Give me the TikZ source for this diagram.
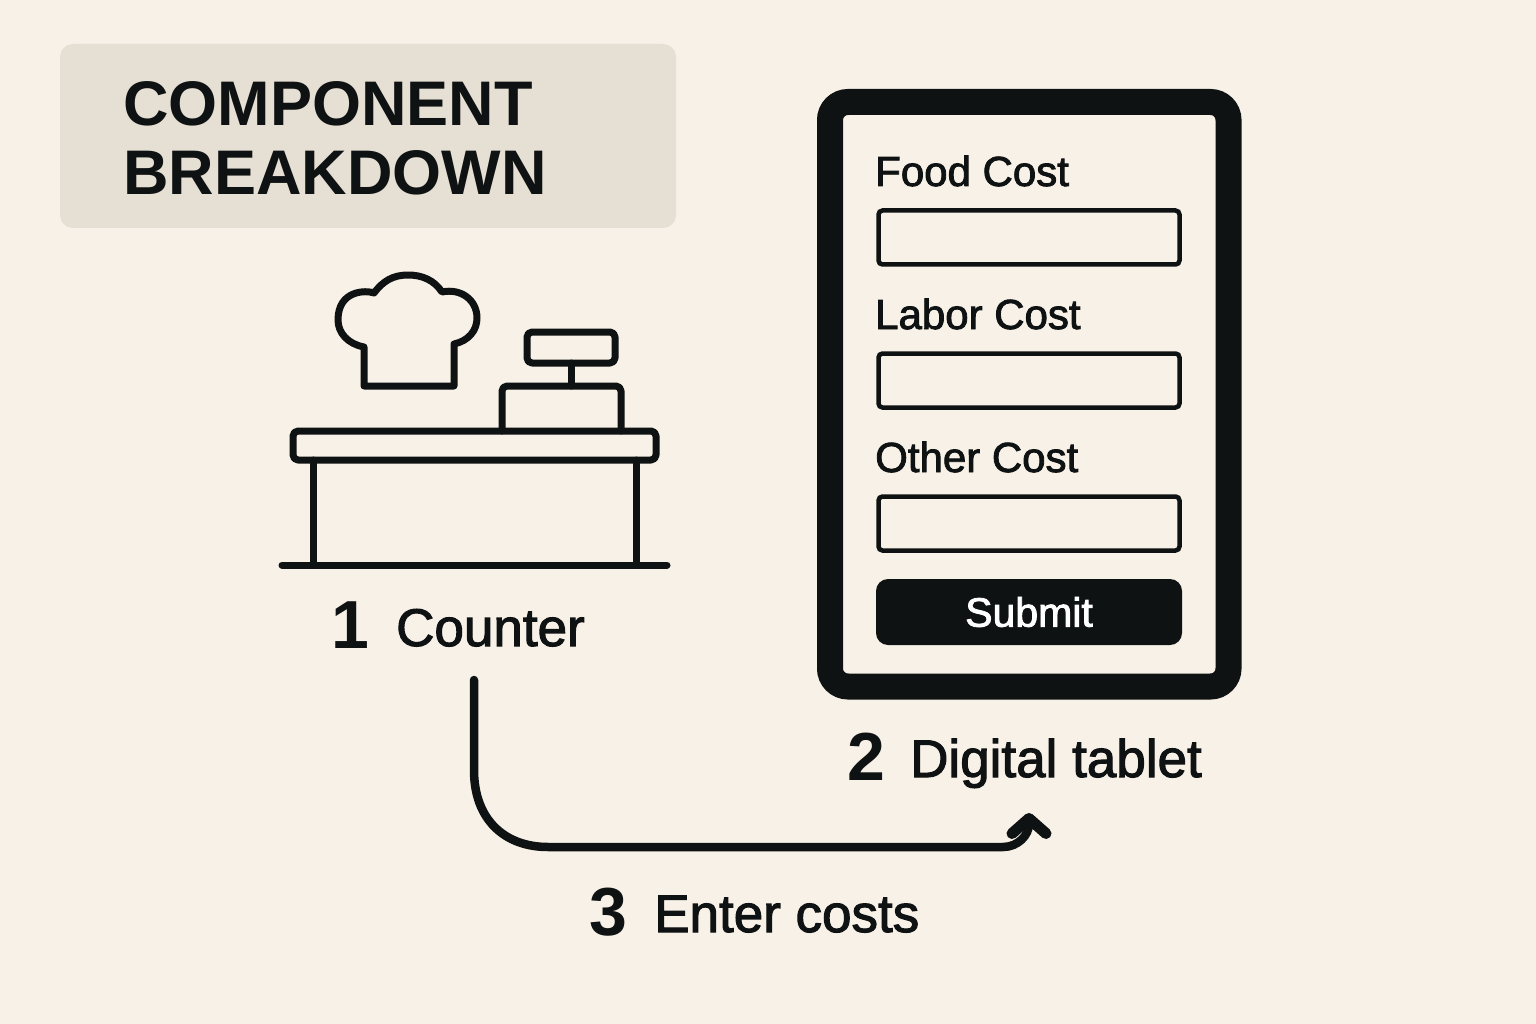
\documentclass[tikz,border=0pt]{standalone}
\usepackage{fontspec}
\setmainfont{Liberation Sans}
\newfontfamily\medfont[FakeBold=2]{Liberation Sans}
\usetikzlibrary{arrows.meta}
\definecolor{paper}{HTML}{F8F1E8}
\definecolor{tag}{HTML}{E6DFD4}
\definecolor{ink}{HTML}{0F1212}
\tikzset{
	icon/.style={draw=ink, line width=7pt, line join=round, line cap=round},
	lbl/.style={anchor=base west, inner sep=0pt, text=ink},
	fieldbox/.style={draw=ink, line width=4.5pt, rounded corners=4pt, minimum width=301pt, minimum height=54pt, inner sep=0pt},
	numlbl/.style={lbl, font=\fontsize{68}{68}\selectfont\bfseries},
	biglbl/.style={lbl, font=\fontsize{53}{53}\selectfont\medfont},
	formlbl/.style={lbl, font=\fontsize{42}{42}\selectfont\medfont},
	titlelbl/.style={lbl, font=\fontsize{63}{63}\selectfont\bfseries},
}
\begin{document}
\begin{tikzpicture}[x=1pt, y=-1pt]
	\useasboundingbox (0,0) rectangle (1536,1024);
	\fill[paper] (0,0) rectangle (1536,1024);
	\fill[tag, rounded corners=13pt] (60,44) rectangle (676,228);
	\node[titlelbl] (title1) at (123,126) {COMPONENT};
	\node[titlelbl] (title2) at (123,195) {BREAKDOWN};
	% chef hat
	\draw[icon] (364,386) -- (454,386) -- (454,344)
		.. controls (468,341) and (477,331) .. (477,318)
		.. controls (477,300) and (461,288) .. (442,292)
		.. controls (434,280) and (422,275) .. (408,275)
		.. controls (393,275) and (383,281) .. (374,293)
		.. controls (366,290) and (338,290) .. (338,320)
		.. controls (338,333) and (348,344) .. (364,347) -- cycle;
	% register
	\draw[icon, rounded corners=5pt] (527,332) rectangle (615,363);
	\draw[icon] (571,363) -- (571,386);
	\draw[icon, rounded corners=5pt] (502,431) -- (502,386) -- (621,386) -- (621,431);
	% counter
	\draw[icon, rounded corners=5pt] (293,431) rectangle (656,460);
	\draw[icon] (313,460) -- (313,565);
	\draw[icon] (636,460) -- (636,565);
	\draw[icon] (282,565) -- (667,565);
	\node[numlbl] (num1) at (331,648) {1};
	\node[biglbl] (counter) at (396,646) {Counter};
	% tablet
	\draw[ink, line width=26pt, rounded corners=18pt] (830,102) rectangle (1228.5,686.5);
	\node[formlbl] (food) at (875,186) {Food Cost};
	\node[fieldbox] (foodbox) at (1029,237.5) {};
	\node[formlbl] (labor) at (875,329) {Labor Cost};
	\node[fieldbox] (laborbox) at (1029,380.5) {};
	\node[formlbl] (other) at (875,472) {Other Cost};
	\node[fieldbox] (otherbox) at (1029,523.5) {};
	\node[fill=ink, rounded corners=12pt, minimum width=306pt, minimum height=66pt, inner sep=0pt, text=white, font=\fontsize{41}{41}\selectfont\medfont] (submit) at (1029,612) {Submit};
	\node[numlbl] (num2) at (847,780) {2};
	\node[biglbl] (tablet) at (910,777) {Digital tablet};
	% connector
	\coordinate (from) at (474,680);
	\coordinate (to) at (1029,813);
	\draw[ink, line width=8.5pt, line cap=round, -{Straight Barb[length=15pt, width=34pt, round, line width=11pt]}] (from) -- (474,770)
		.. controls (474,820) and (505,847) .. (548,847) -- (1003,847)
		.. controls (1018,847) and (1029,835) .. (to);
	\node[numlbl] (num3) at (589,935) {3};
	\node[biglbl] (enter) at (654,932) {Enter costs};
\end{tikzpicture}
\end{document}
